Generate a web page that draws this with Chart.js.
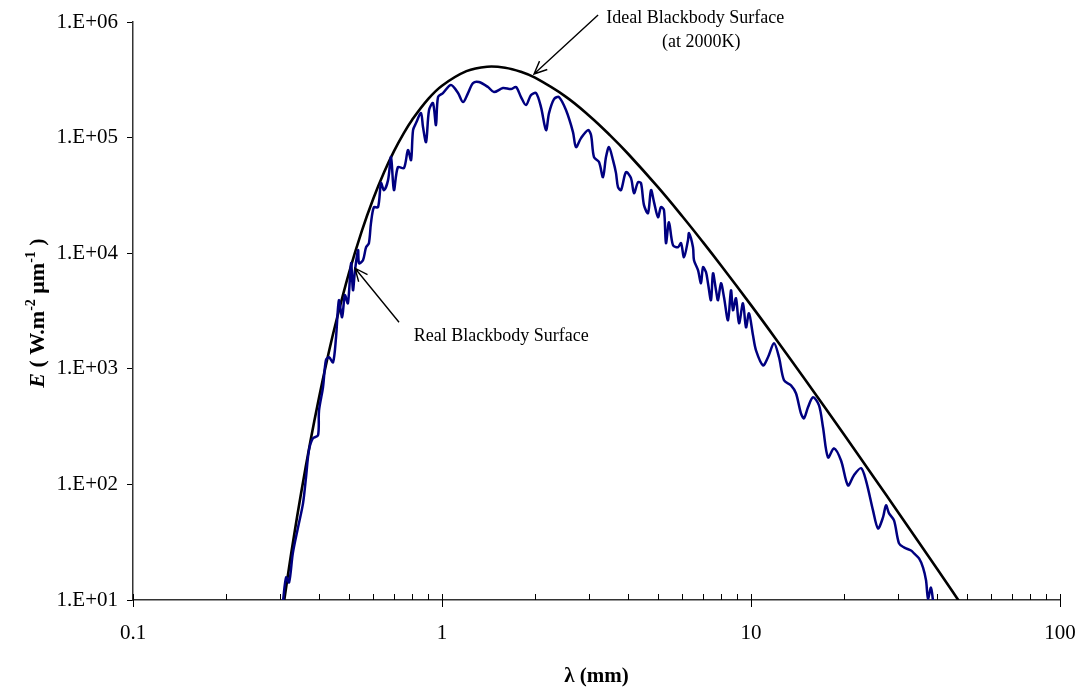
<!DOCTYPE html>
<html>
<head>
<meta charset="utf-8">
<script src="https://cdn.jsdelivr.net/npm/chart.js@4.4.1/dist/chart.umd.min.js"></script>
<style>
  html, body { margin: 0; padding: 0; background: #fff; }
</style>
</head>
<body>
<canvas id="spectrumChart" width="1084" height="691"></canvas>
<script>
// Ideal blackbody curve (2000K)
const idealLambda = [0.3, 0.32, 0.33, 0.35, 0.375, 0.4, 0.425, 0.45, 0.5, 0.55, 0.6, 0.65, 0.7, 0.75, 0.8, 0.9,
  1, 1.2, 1.4, 1.6, 1.8, 2, 2.5, 3, 3.5, 4, 5, 6, 7, 8, 10, 12, 15, 20, 25, 30, 40, 50];
const idealPower = [5.94, 19.2, 32.6, 84.4, 235, 565, 1202, 2313, 6754, 15520, 29870, 50330, 76670, 107640, 142030, 214100,
  281270, 375600, 410500, 402500, 370700, 329500, 228500, 154000, 104600, 72500, 37230, 20770, 12406, 7833, 3553, 1831, 801, 270, 115, 56.8, 18.6, 7.74];

// Real blackbody surface (noisy measured curve)
const realLambda = [0.306, 0.313, 0.320, 0.329, 0.342, 0.355, 0.363, 0.371, 0.382, 0.397, 0.400, 0.412, 0.421, 0.431, 0.444,
  0.454, 0.464, 0.475, 0.485, 0.496, 0.508, 0.515, 0.523, 0.535, 0.539, 0.555, 0.568, 0.580, 0.589, 0.602, 0.621, 0.635,
  0.649, 0.669, 0.684, 0.699, 0.720, 0.753, 0.776, 0.794, 0.806, 0.824, 0.855, 0.868, 0.888, 0.908, 0.935, 0.956, 0.971,
  1.007, 1.069, 1.127, 1.170, 1.214, 1.260, 1.317, 1.409, 1.473, 1.575, 1.672, 1.736, 1.802, 1.870, 1.941, 2.015, 2.091,
  2.171, 2.220, 2.304, 2.391, 2.519, 2.654, 2.714, 2.818, 2.969, 3.036, 3.104, 3.222, 3.319, 3.394, 3.471, 3.576, 3.657,
  3.712, 3.796, 3.940, 4.089, 4.182, 4.309, 4.406, 4.505, 4.642, 4.747, 4.854, 5.000, 5.113, 5.229, 5.307, 5.427, 5.591,
  5.805, 5.936, 6.070, 6.253, 6.300, 6.490, 6.539, 6.737, 6.889, 6.993, 7.151, 7.258, 7.422, 7.534, 7.704, 7.820, 7.996,
  8.177, 8.425, 8.615, 8.744, 8.941, 9.146, 9.421, 9.634, 9.851, 10.15, 10.38, 10.94, 11.35, 11.87, 12.32, 12.79, 13.47,
  13.98, 14.51, 14.84, 15.29, 15.87, 16.60, 17.10, 17.75, 18.56, 19.56, 20.60, 21.54, 22.70, 23.56, 24.82, 25.76, 26.74,
  27.35, 27.97, 29.03, 30.13, 31.27, 32.95, 33.70, 34.98, 36.04, 36.85, 37.40, 38.24, 38.81];
const realPower = [9.9, 15.7, 14.2, 25.3, 42.4, 68.5, 115, 197, 250, 266, 437, 691, 1185, 1258, 1138,
  1874, 3919, 2792, 4329, 3691, 8193, 4783, 7126, 10620, 8193, 8698, 11270, 12210, 18180, 25020, 25020, 40370,
  35120, 42860, 67790, 35120, 55540, 54440, 77950, 63860, 116100, 133500, 163000, 123300, 91420, 173000, 198900, 128300, 224200,
  242800, 284800, 242800, 202900, 242800, 296300, 302300, 273600, 247700, 268300, 262900, 273600, 224200, 191100, 233300, 242800, 183700,
  116100, 163000, 215400, 224200, 173000, 111600, 82750, 99010, 116100, 105100, 67790, 61370, 45500, 67790, 82750, 63860, 49280,
  37270, 35120, 50270, 44610, 33070, 41180, 40370, 26040, 22200, 35120, 27650, 20500, 25020, 23570, 12210, 18550, 11730,
  11270, 12210, 9235, 12960, 14900, 11270, 8698, 7126, 5499, 7564, 6846, 5499, 3919, 6711, 4783, 3919, 5499,
  4159, 2630, 4783, 3211, 4077, 2477, 3691, 2287, 3023, 1950, 1446, 1072, 1258, 1663, 1258, 795, 720,
  614, 412, 373, 464, 567, 483, 312, 171, 205, 161, 98, 120, 138, 108, 59.6, 41.6, 51.8,
  65.8, 56.1, 48.8, 30.9, 28.5, 26.8, 25.3, 22.9, 19.1, 14.8, 10.3, 12.8, 9.9];

// Axis ticks
const yTicks = [10, 100, 1000, 10000, 100000, 1000000];
const yTickLabels = ['1.E+01', '1.E+02', '1.E+03', '1.E+04', '1.E+05', '1.E+06'];
const xTicks = [0.1, 1, 10, 100];
const xTickLabels = ['0.1', '1', '10', '100'];
const xMinorTicks = [0.2, 0.3, 0.4, 0.5, 0.6, 0.7, 0.8, 0.9, 2, 3, 4, 5, 6, 7, 8, 9, 20, 30, 40, 50, 60, 70, 80, 90];

const serif = '"Liberation Serif", "Times New Roman", serif';

// Arrow annotations, anchored in data coordinates
const idealNote = { lines: ['Ideal Blackbody Surface', '(at 2000K)'], at: [6.6, 1.08e6], at2: [6.9, 6.72e5], tail: [3.2, 1.15e6], head: [1.985, 3.55e5] };
const realNote = { text: 'Real Blackbody Surface', at: [0.81, 1910], tail: [0.726, 2529], head: [0.523, 7413] };

function drawArrow(ctx, x1, y1, x2, y2) {
  const ang = Math.atan2(y2 - y1, x2 - x1);
  const len = 14, spread = 0.42;
  ctx.beginPath();
  ctx.moveTo(x1, y1);
  ctx.lineTo(x2, y2);
  ctx.moveTo(x2 - len * Math.cos(ang - spread), y2 - len * Math.sin(ang - spread));
  ctx.lineTo(x2, y2);
  ctx.lineTo(x2 - len * Math.cos(ang + spread), y2 - len * Math.sin(ang + spread));
  ctx.stroke();
}

const decorations = {
  id: 'decorations',
  afterDraw(chart) {
    const ctx = chart.ctx;
    const xs = chart.scales.x, ys = chart.scales.y;
    const bottom = chart.chartArea.bottom;
    ctx.save();
    ctx.strokeStyle = '#000';
    ctx.lineWidth = 1;

    // x tick marks: majors cross the axis, minors point inward
    ctx.beginPath();
    xTicks.forEach(v => {
      const px = Math.round(xs.getPixelForValue(v)) + 0.5;
      ctx.moveTo(px, bottom - 6);
      ctx.lineTo(px, bottom + 7);
    });
    xMinorTicks.forEach(v => {
      const px = Math.round(xs.getPixelForValue(v)) + 0.5;
      ctx.moveTo(px, bottom - 6);
      ctx.lineTo(px, bottom);
    });
    ctx.stroke();

    // annotations
    ctx.fillStyle = '#000';
    ctx.font = '18px ' + serif;
    ctx.textAlign = 'center';
    ctx.textBaseline = 'middle';
    ctx.fillText(idealNote.lines[0], xs.getPixelForValue(idealNote.at[0]), ys.getPixelForValue(idealNote.at[1]));
    ctx.fillText(idealNote.lines[1], xs.getPixelForValue(idealNote.at2[0]), ys.getPixelForValue(idealNote.at2[1]));
    ctx.lineWidth = 1.4;
    drawArrow(ctx, xs.getPixelForValue(idealNote.tail[0]), ys.getPixelForValue(idealNote.tail[1]),
      xs.getPixelForValue(idealNote.head[0]), ys.getPixelForValue(idealNote.head[1]));

    ctx.textAlign = 'left';
    ctx.fillText(realNote.text, xs.getPixelForValue(realNote.at[0]), ys.getPixelForValue(realNote.at[1]));
    drawArrow(ctx, xs.getPixelForValue(realNote.tail[0]), ys.getPixelForValue(realNote.tail[1]),
      xs.getPixelForValue(realNote.head[0]), ys.getPixelForValue(realNote.head[1]));

    // y axis title with superscripts
    const parts = [
      { t: 'E', f: 'italic bold 22px ' + serif, dy: 0 },
      { t: ' ( W.m', f: 'bold 22px ' + serif, dy: 0 },
      { t: '-2', f: 'bold 14px ' + serif, dy: -9 },
      { t: ' \u03bcm', f: 'bold 22px ' + serif, dy: 0 },
      { t: '-1', f: 'bold 14px ' + serif, dy: -9 },
      { t: ' )', f: 'bold 22px ' + serif, dy: 0 }
    ];
    let total = 0;
    parts.forEach(p => { ctx.font = p.f; p.w = ctx.measureText(p.t).width; total += p.w; });
    ctx.translate(37, 313);
    ctx.rotate(-Math.PI / 2);
    ctx.textAlign = 'left';
    ctx.textBaseline = 'alphabetic';
    let cx = -total / 2;
    parts.forEach(p => {
      ctx.font = p.f;
      ctx.fillText(p.t, cx, 7 + p.dy);
      cx += p.w;
    });
    ctx.restore();
  }
};

const ctx = document.getElementById('spectrumChart').getContext('2d');
const chart = new Chart(ctx, {
  type: 'line',
  data: {
    datasets: [
      {
        label: 'Real Blackbody Surface',
        data: realLambda.map((l, i) => ({ x: l, y: realPower[i] })),
        borderColor: '#000080',
        borderWidth: 2.5,
        pointRadius: 0,
        tension: 0.3,
        fill: false
      },
      {
        label: 'Ideal Blackbody Surface',
        data: idealLambda.map((l, i) => ({ x: l, y: idealPower[i] })),
        borderColor: '#000000',
        borderWidth: 2.6,
        pointRadius: 0,
        tension: 0.4,
        fill: false
      }
    ]
  },
  options: {
    responsive: false,
    devicePixelRatio: 1,
    animation: false,
    layout: { padding: { left: 0, right: 24, top: 22, bottom: 0 } },
    plugins: { legend: { display: false }, tooltip: { enabled: false } },
    scales: {
      x: {
        type: 'logarithmic',
        min: 0.1,
        max: 100,
        afterBuildTicks: s => { s.ticks = xTicks.map(v => ({ value: v })); },
        // keep the label padding from eating into the plot width
        afterFit: s => { s.height = 91; s.paddingRight = 18; s.paddingLeft = 18; },
        grid: { display: false, drawTicks: false },
        border: { display: true, color: '#333', width: 1.5 },
        ticks: {
          color: '#000',
          padding: 21,
          maxRotation: 0,
          autoSkip: false,
          font: { family: serif, size: 21 },
          callback: (v, i) => xTickLabels[i]
        },
        title: {
          display: true,
          text: '\u03bb (mm)',
          color: '#000',
          padding: { top: 0, bottom: 2 },
          font: { family: serif, size: 21, weight: 'bold' }
        }
      },
      y: {
        type: 'logarithmic',
        min: 10,
        max: 1000000,
        afterBuildTicks: s => { s.ticks = yTicks.map(v => ({ value: v })); },
        afterFit: s => { s.width = 133; },
        grid: { drawOnChartArea: false, drawTicks: true, tickLength: 6, color: '#000' },
        border: { display: true, color: '#333', width: 1.5 },
        ticks: {
          color: '#000',
          padding: 9,
          autoSkip: false,
          font: { family: serif, size: 21 },
          callback: (v, i) => yTickLabels[i]
        },
        title: { display: false }
      }
    }
  },
  plugins: [decorations]
});
</script>
</body>
</html>
